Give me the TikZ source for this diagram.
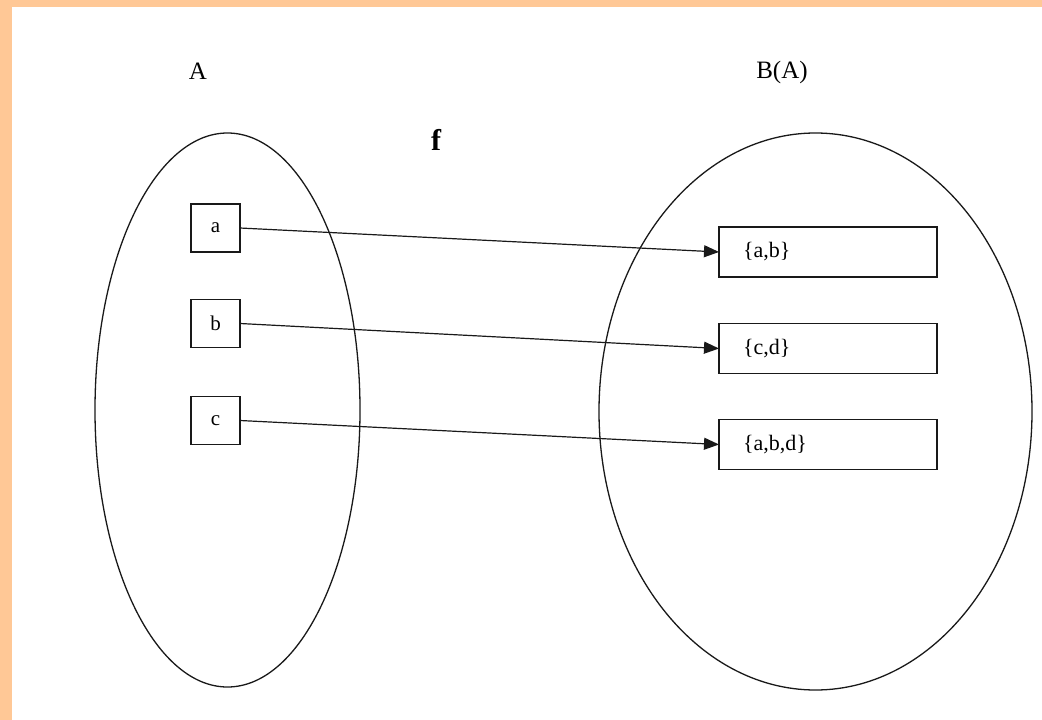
\documentclass[tikz,border=0pt]{standalone}
\usepackage{fontspec}
\setmainfont{Liberation Serif}
\usetikzlibrary{arrows.meta}
\definecolor{peach}{RGB}{255,200,150}
\definecolor{ink}{RGB}{25,25,25}
\begin{document}
\begin{tikzpicture}[x=1pt,y=-1pt,
  setline/.style={draw=ink,line width=1.3pt},
  elem/.style={setline,minimum width=49pt,minimum height=48pt,inner sep=0pt,outer sep=0pt,font=\fontsize{21}{24}\selectfont},
  subset/.style={setline,text width=170pt,inner xsep=24pt,inner ysep=0pt,minimum height=50pt,align=left,outer sep=0pt,font=\fontsize{22}{26}\selectfont},
  heading/.style={font=\fontsize{25}{29}\selectfont,inner sep=0pt},
  maparrow/.style={draw=ink,line width=1.2pt,-{Triangle[length=15pt,width=12pt]}}]
\useasboundingbox (0,0) rectangle (1042,720);
\fill[peach] (0,0) rectangle (1042,720);
\fill[white] (12,7) rectangle (1042,720);
\draw[setline] (227.5,410) ellipse [x radius=132.5, y radius=277];
\draw[setline] (815.5,411.5) ellipse [x radius=216.5, y radius=278.5];
\node[heading] (lA) at (198,71) {A};
\node[heading] (lB) at (782,72) {B(A)};
\node[font=\bfseries\fontsize{30}{34}\selectfont,inner sep=0pt] (lf) at (436,140) {f};
\node[elem] (a) at (215.5,228) {a};
\node[elem] (b) at (215.5,323.5) {b};
\node[elem] (c) at (215.5,420.5) {c};
\node[subset] (ab) at (828,252) {\{a,b\}};
\node[subset] (cd) at (828,348.5) {\{c,d\}};
\node[subset] (abd) at (828,444.5) {\{a,b,d\}};
\draw[maparrow] (a.east) -- (ab.west);
\draw[maparrow] (b.east) -- (cd.west);
\draw[maparrow] (c.east) -- (abd.west);
\end{tikzpicture}
\end{document}
